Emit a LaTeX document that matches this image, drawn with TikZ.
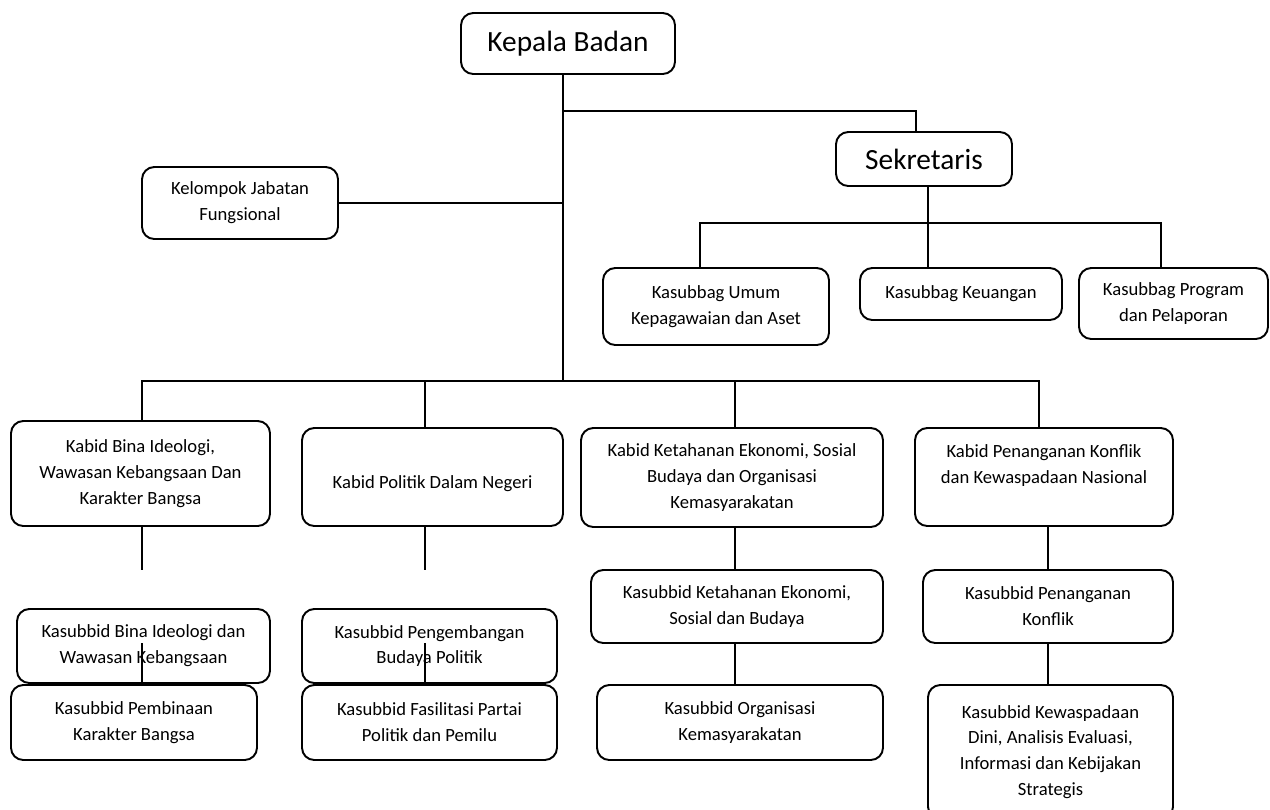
\documentclass[tikz,border=0pt]{standalone}
\usepackage{fontspec}
\setmainfont{Carlito}

\begin{document}
\begin{tikzpicture}[
  x=0.02cm, y=-0.02cm,
  kotak/.style={draw=black, fill=white, line width=1.1pt, rounded corners=7pt,
                inner sep=0pt, align=center, font=\fontsize{10.6}{14.75}\selectfont},
  kotakbesar/.style={kotak, font=\fontsize{16.7}{19}\selectfont},
  ukuran/.style 2 args={minimum width=#1*0.02cm, minimum height=#2*0.02cm},
  garis/.style={draw=black, line width=0.8pt}
]
\useasboundingbox (0,0) rectangle (1270,809);

% pimpinan
\node[kotakbesar, ukuran={214}{61}] (kepala) at (568,43.5) {Kepala Badan};
\node[kotakbesar, ukuran={176}{54}] (sekretaris) at (924,159) {Sekretaris};
\node[kotak, ukuran={196}{72}] (kelompok) at (240,203) {Kelompok Jabatan\\Fungsional};

% sekretariat
\node[kotak, ukuran={226}{77}] (umum) at (716,306.5) {Kasubbag Umum\\Kepagawaian dan Aset};
\node[kotak, ukuran={202}{52}] (keuangan) at (961,294) {Kasubbag Keuangan};
\node[kotak, ukuran={189}{71}] (program) at (1173.5,303.5) {Kasubbag Program\\dan Pelaporan};

% bidang
\node[kotak, ukuran={259}{105}] (kabid1) at (140.5,473.5) {Kabid Bina Ideologi,\\Wawasan Kebangsaan Dan\\Karakter Bangsa};
\node[kotak, ukuran={261}{98}] (kabid2) at (432.5,477) {\mbox{}\\Kabid Politik Dalam Negeri};
\node[kotak, ukuran={302}{99}] (kabid3) at (732,477.5) {Kabid Ketahanan Ekonomi, Sosial\\Budaya dan Organisasi\\Kemasyarakatan};
\node[kotak, ukuran={258}{98}] (kabid4) at (1044,477) {Kabid Penanganan Konflik\\dan Kewaspadaan Nasional\\\mbox{}};

% subbidang
\node[kotak, ukuran={253}{74}] (bina) at (143.5,646) {Kasubbid Bina Ideologi dan\\Wawasan Kebangsaan};
\node[kotak, ukuran={246}{75}] (pembinaan) at (134,722.5) {Kasubbid Pembinaan\\Karakter Bangsa};
\node[kotak, ukuran={255}{74}] (pengembangan) at (429.5,646) {Kasubbid Pengembangan\\Budaya Politik};
\node[kotak, ukuran={255}{75}] (fasilitasi) at (429.5,722.5) {Kasubbid Fasilitasi Partai\\Politik dan Pemilu};
\node[kotak, ukuran={292}{73}] (ketahanan) at (737,606.5) {Kasubbid Ketahanan Ekonomi,\\Sosial dan Budaya};
\node[kotak, ukuran={286}{75}] (organisasi) at (740,722.5) {Kasubbid Organisasi\\Kemasyarakatan};
\node[kotak, ukuran={250}{73}] (penanganan) at (1048,606.5) {Kasubbid Penanganan\\Konflik};
\node[kotak, ukuran={245}{134}] (kewaspadaan) at (1050.5,752) {Kasubbid Kewaspadaan\\Dini, Analisis Evaluasi,\\Informasi dan Kebijakan\\Strategis};

% garis komando
\coordinate (cabang) at (563,111);
\coordinate (sek) at (916,111);
\coordinate (bus) at (563,381);
\coordinate (buskiri) at (142,381);
\coordinate (buskanan) at (1039,381);
\coordinate (sub) at (928,223);
\coordinate (subkiri) at (700,223);
\coordinate (subkanan) at (1161,223);

\draw[garis] (kepala.south -| bus) -- (bus);
\draw[garis] (cabang) -- (sek) -- (sek |- sekretaris.north);
\draw[garis] (kelompok.east) -- (kelompok.east -| bus);
\draw[garis] (sekretaris.south -| sub) -- (keuangan.north -| sub);
\draw[garis] (umum.north -| subkiri) -- (subkiri) -- (subkanan) -- (subkanan |- program.north);
\draw[garis] (kabid1.north -| buskiri) -- (buskiri) -- (buskanan) -- (buskanan |- kabid4.north);
\draw[garis] (kabid2.north -| 425,0) -- (425,381);
\draw[garis] (kabid3.north -| 735,0) -- (735,381);

\foreach \a/\b/\x in {kabid1/bina/142, kabid2/pengembangan/425} {
  \coordinate (ujung\a) at (\x,570);
  \coordinate (sisa\a) at (\x,643);
  \draw[garis] (\a.south -| ujung\a) -- (ujung\a);
  \draw[garis] (sisa\a) -- (sisa\a |- \b.south);
}
\foreach \a/\b/\c/\x in {kabid3/ketahanan/organisasi/735, kabid4/penanganan/kewaspadaan/1048} {
  \coordinate (jalur\a) at (\x,0);
  \draw[garis] (\a.south -| jalur\a) -- (\b.north -| jalur\a);
  \draw[garis] (\b.south -| jalur\a) -- (\c.north -| jalur\a);
}

\end{tikzpicture}
\end{document}
